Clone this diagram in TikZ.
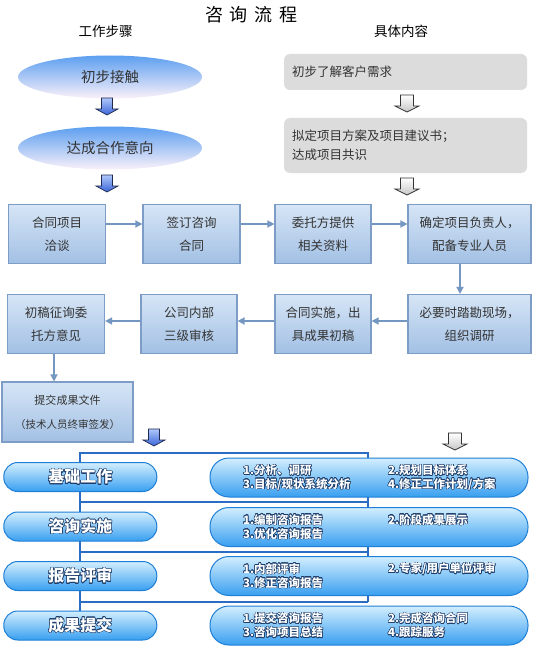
\documentclass[tikz,border=0pt]{standalone}
\usepackage{fontspec}
\setmainfont{Noto Sans CJK SC}
\usepackage{contour}
\contourlength{0.5pt}
\usetikzlibrary{shapes.geometric,arrows.meta,calc}
\definecolor{boxtop}{HTML}{D6E5F6}
\definecolor{boxbot}{HTML}{A2C0E4}
\definecolor{boxline}{HTML}{7E9DC6}
\definecolor{arr}{HTML}{7497C2}
\definecolor{etop}{HTML}{5C9FF0}
\definecolor{emid}{HTML}{A8CBF6}
\definecolor{ebot}{HTML}{FBF1FA}
\definecolor{grayfill}{HTML}{DCDCDC}
\definecolor{txt}{HTML}{333333}
\definecolor{netline}{HTML}{2B6CC4}
\definecolor{ptop}{HTML}{D3EEFE}
\definecolor{pmid}{HTML}{86CAF8}
\definecolor{pbot}{HTML}{389FF0}
\definecolor{pline}{HTML}{1F7FD6}
\definecolor{ctr}{HTML}{1D3D6B}
\definecolor{ablue1}{HTML}{AFC8FA}
\definecolor{ablue2}{HTML}{3A64D8}
\definecolor{adark}{HTML}{1E2A50}
\tikzset{
  stepbox/.style={draw=boxline, line width=1.2pt, top color=boxtop, bottom color=boxbot,
    minimum width=97pt, minimum height=59pt, align=center, text=txt, inner sep=0pt,
    font=\fontsize{12.5}{23}\selectfont},
  flowarr/.style={draw=arr, line width=1.6pt, -{Triangle[width=7pt,length=7pt]}},
  oval/.style={ellipse, minimum width=184pt, minimum height=43pt, inner sep=0pt,
    top color=etop, middle color=emid, bottom color=ebot, text=txt,
    font=\fontsize{14.5}{17}\selectfont},
  graybox/.style={fill=grayfill, rounded corners=6pt, align=left, text width=227pt,
    inner xsep=8pt, text=txt, font=\fontsize{12.5}{19}\selectfont},
  leftpill/.style={draw=pline, line width=1pt, rounded corners=14pt, minimum width=153pt,
    minimum height=29pt, inner sep=0pt, top color=ptop, middle color=pmid, bottom color=pbot,
    text=white, font=\bfseries\fontsize{16}{18}\selectfont},
  rightpill/.style={draw=pline, line width=1pt, rounded corners=19pt, minimum width=318pt,
    minimum height=39pt, inner sep=0pt, top color=ptop, middle color=pmid, bottom color=pbot},
  ptxt/.style={anchor=west, inner sep=0pt, text=white, font=\bfseries\fontsize{11.5}{13}\selectfont},
  net/.style={draw=netline, line width=2pt},
  hdr/.style={inner sep=0pt, text=black, font=\fontsize{13.5}{16}\selectfont},
  bluedown/.pic={\path[draw=adark, line width=0.7pt, top color=ablue1, bottom color=ablue2]
    (-5.5,0) -- (5.5,0) -- (5.5,11) -- (11,11) -- (0,17) -- (-11,11) -- (-5.5,11) -- cycle;},
  graydown/.pic={\path[draw=black!80, line width=0.7pt, top color=white, bottom color=black!22]
    (-6.5,0) -- (6.5,0) -- (6.5,11) -- (12,11) -- (0,17) -- (-12,11) -- (-6.5,11) -- cycle;}
}
\begin{document}
\begin{tikzpicture}[x=1pt,y=-1pt]
\useasboundingbox[fill=white] (0,0) rectangle (533,650);
% headings
\node[inner sep=0pt, font=\fontsize{18}{20}\selectfont] (title) at (251.5,15) {咨\hspace{7pt}询\hspace{7pt}流\hspace{7pt}程};
\node[hdr] (h1) at (105.5,31) {工作步骤};
\node[hdr] (h2) at (401,31) {具体内容};
% top part
\node[oval] (e1) at (110,77) {初步接触};
\node[oval] (e2) at (110,148) {达成合作意向};
\node[graybox, minimum height=36pt] (g1) at (405.5,72) {初步了解客户需求};
\node[graybox, minimum height=55pt] (g2) at (405.5,145.5) {拟定项目方案及项目建议书；\\达成项目共识};
\pic at (107,98) {bluedown};
\pic at (407,95) {graydown};
\pic at (107,175) {bluedown};
\pic at (407,178) {graydown};
% middle flow
\node[stepbox] (b1) at (57,234) {合同项目\\洽谈};
\node[stepbox] (b2) at (191.5,234) {签订咨询\\合同};
\node[stepbox, minimum width=96pt] (b3) at (323,234) {委托方提供\\相关资料};
\node[stepbox, minimum width=123pt] (b4) at (469.5,234) {确定项目负责人，\\配备专业人员};
\node[stepbox, minimum width=123pt] (c4) at (469.5,324) {必要时踏勘现场，\\组织调研};
\node[stepbox, minimum width=96pt] (c3) at (323,324) {合同实施，出\\具成果初稿};
\node[stepbox, minimum width=96pt] (c2) at (189,324) {公司内部\\三级审核};
\node[stepbox] (c1) at (56,324) {初稿征询委\\托方意见};
\node[stepbox, minimum width=131pt, minimum height=60pt, font=\fontsize{11}{24}\selectfont] (d) at (67.5,412) {提交成果文件\\{\fontsize{10.5}{12}\selectfont（技术人员终审签发）}};
\draw[flowarr] ($(b1.east)+(0pt,10pt)$) -- ($(b2.west)+(0pt,10pt)$);
\draw[flowarr] ($(b2.east)+(0pt,10pt)$) -- ($(b3.west)+(0pt,10pt)$);
\draw[flowarr] ($(b3.east)+(0pt,10pt)$) -- ($(b4.west)+(0pt,10pt)$);
\draw[flowarr] ($(b4.south)+(-9.5pt,0pt)$) -- ($(c4.north)+(-9.5pt,0pt)$);
\draw[flowarr] ($(c4.west)+(0pt,3pt)$) -- ($(c3.east)+(0pt,3pt)$);
\draw[flowarr] ($(c3.west)+(0pt,3pt)$) -- ($(c2.east)+(0pt,3pt)$);
\draw[flowarr] ($(c2.west)+(0pt,3pt)$) -- ($(c1.east)+(0pt,3pt)$);
\draw[flowarr] ($(c1.south)+(-2pt,0pt)$) -- ($(c1.south |- d.north)+(-2pt,0pt)$);
\pic at (154,429) {bluedown};
\pic at (455,433) {graydown};
% bottom network
\coordinate (tl) at (80,453);
\coordinate (tr) at (368,453);
\coordinate (m1l) at (80,502);
\coordinate (m1r) at (368,502);
\coordinate (m2l) at (80,552);
\coordinate (m2r) at (368,552);
\coordinate (m3l) at (80,602);
\coordinate (m3r) at (368,602);
\coordinate (bl) at (80,612);
\path[net] (bl) -- (tl) -- (tr) -- (m3r);
\path[net] (m1l) -- (m1r);
\path[net] (m2l) -- (m2r);
\path[net] (m3l) -- (m3r);
\node[leftpill] (L1) at (80.3,477) {\contour{ctr}{基础工作}};
\node[leftpill] (L2) at (80.3,526.5) {\contour{ctr}{咨询实施}};
\node[leftpill] (L3) at (80.3,576) {\contour{ctr}{报告评审}};
\node[leftpill] (L4) at (80.3,625.5) {\contour{ctr}{成果提交}};
\node[rightpill] (R1) at (369,477.5) {};
\node[rightpill] (R2) at (369,527) {};
\node[rightpill] (R3) at (369,576) {};
\node[rightpill] (R4) at (369,625.5) {};
\node[ptxt] (r1a) at (243,470.5) {\contour{ctr}{1.分析、调研}};
\node[ptxt] (r1b) at (388,470.5) {\contour{ctr}{2.规划目标体系}};
\node[ptxt] (r1c) at (243,484.5) {\contour{ctr}{3.目标/现状系统分析}};
\node[ptxt] (r1d) at (388,484.5) {\contour{ctr}{4.修正工作计划/方案}};
\node[ptxt] (r2a) at (243,520) {\contour{ctr}{1.编制咨询报告}};
\node[ptxt] (r2b) at (388,520) {\contour{ctr}{2.阶段成果展示}};
\node[ptxt] (r2c) at (243,534) {\contour{ctr}{3.优化咨询报告}};
\node[ptxt] (r3a) at (243,569) {\contour{ctr}{1.内部评审}};
\node[ptxt] (r3b) at (388,569) {\contour{ctr}{2.专家/用户单位评审}};
\node[ptxt] (r3c) at (243,583) {\contour{ctr}{3.修正咨询报告}};
\node[ptxt] (r4a) at (243,618.5) {\contour{ctr}{1.提交咨询报告}};
\node[ptxt] (r4b) at (388,618.5) {\contour{ctr}{2.完成咨询合同}};
\node[ptxt] (r4c) at (243,632.5) {\contour{ctr}{3.咨询项目总结}};
\node[ptxt] (r4d) at (388,632.5) {\contour{ctr}{4.跟踪服务}};
\end{tikzpicture}
\end{document}
